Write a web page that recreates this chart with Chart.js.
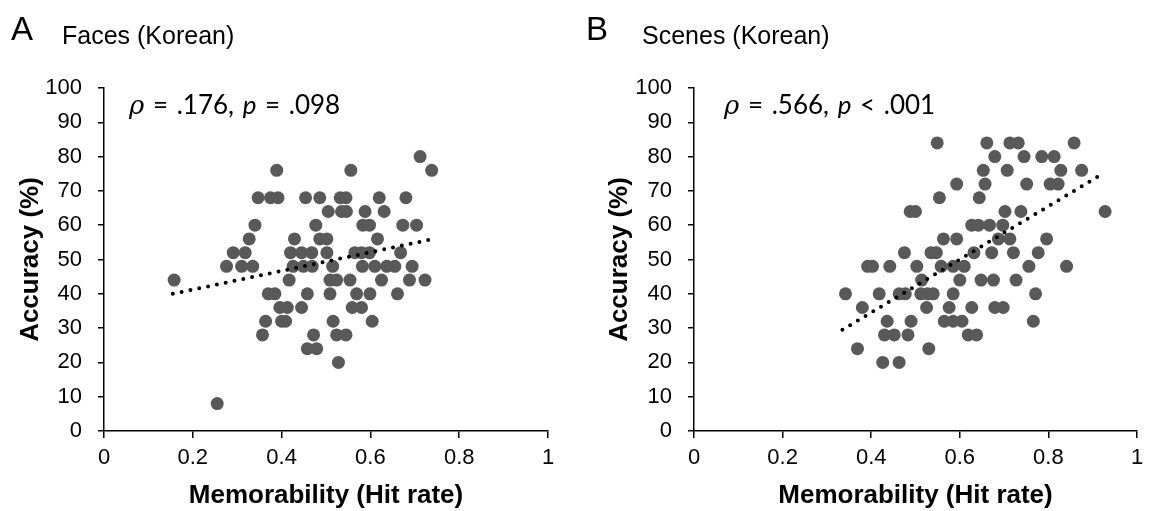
<!DOCTYPE html>
<html>
<head>
<meta charset="utf-8">
<script src="https://cdn.jsdelivr.net/npm/chart.js@4.4.1/dist/chart.umd.min.js"></script>
<style>
  body { margin: 0; background: #fff; }
  #wrap { position: relative; width: 1154px; height: 511px; overflow: hidden; font-family: "Liberation Sans", Arial, sans-serif; color: #000; }
  canvas { position: absolute; top: 0; }
  .panel { position: absolute; font-size: 33px; line-height: 1; }
  .title { position: absolute; font-size: 25px; line-height: 1; }
  .stat { position: absolute; font-family: Lato, "Open Sans", sans-serif; font-size: 26px; line-height: 1; white-space: nowrap; word-spacing: 2px; }
  .stat .rho { font-family: "DejaVu Serif", serif; font-style: italic; }
</style>
</head>
<body>
<div id="wrap">
  <canvas id="facesChart" width="577" height="511" style="left:0;width:577px;height:511px"></canvas>
  <canvas id="scenesChart" width="577" height="511" style="left:577px;width:577px;height:511px"></canvas>
  <div class="panel" style="left:11px;top:12px">A</div>
  <div class="title" style="left:62px;top:23px">Faces (Korean)</div>
  <div class="panel" style="left:586px;top:12px">B</div>
  <div class="title" style="left:642px;top:23px">Scenes (Korean)</div>
  <div class="stat" style="left:129px;top:91px"><span class="rho">ρ</span> = .176, <i>p</i> = .098</div>
  <div class="stat" style="left:724px;top:91px"><span class="rho">ρ</span> = .566, <i>p</i> &lt; .001</div>
</div>
<script>
// Faces (Korean): memorability (hit rate) vs accuracy (%)
const facesX = [
  0.389, 0.556, 0.738,
  0.712,
  0.347, 0.375, 0.392, 0.454, 0.486, 0.532, 0.545, 0.620, 0.680,
  0.505, 0.535, 0.546, 0.588, 0.631,
  0.340, 0.477, 0.583, 0.598, 0.673, 0.704,
  0.327, 0.429, 0.486, 0.502, 0.616,
  0.291, 0.318, 0.420, 0.445, 0.468, 0.502, 0.565, 0.580, 0.598, 0.668,
  0.276, 0.310, 0.335, 0.426, 0.449, 0.469, 0.515, 0.582, 0.610, 0.637, 0.655, 0.694,
  0.158, 0.417, 0.509, 0.524, 0.554, 0.625, 0.688, 0.723,
  0.370, 0.385, 0.458, 0.509, 0.569, 0.599, 0.661,
  0.396, 0.413, 0.445, 0.559, 0.580,
  0.364, 0.400, 0.409, 0.516, 0.604,
  0.357, 0.472, 0.524, 0.545,
  0.458, 0.479,
  0.528,
  0.255
];
const facesY = [
  76, 76, 76,
  80,
  68, 68, 68, 68, 68, 68, 68, 68, 68,
  64, 64, 64, 64, 64,
  60, 60, 60, 60, 60, 60,
  56, 56, 56, 56, 56,
  52, 52, 52, 52, 52, 52, 52, 52, 52, 52,
  48, 48, 48, 48, 48, 48, 48, 48, 48, 48, 48, 48,
  44, 44, 44, 44, 44, 44, 44, 44,
  40, 40, 40, 40, 40, 40, 40,
  36, 36, 36, 36, 36,
  32, 32, 32, 32, 32,
  28, 28, 28, 28,
  24, 24,
  20,
  8
];
const facesTrendX = [0.155, 0.735];
const facesTrendY = [40, 55.8];

// Scenes (Korean)
const scenesX = [
  0.549, 0.661, 0.713, 0.732, 0.858,
  0.679, 0.745, 0.785, 0.813,
  0.653, 0.707, 0.828, 0.875,
  0.593, 0.657, 0.751, 0.804, 0.822,
  0.554, 0.644,
  0.488, 0.500, 0.702, 0.738, 0.928,
  0.627, 0.642, 0.667, 0.697,
  0.563, 0.593, 0.687, 0.713, 0.796,
  0.475, 0.535, 0.547, 0.632, 0.672, 0.721, 0.777,
  0.392, 0.403, 0.442, 0.503, 0.558, 0.585, 0.610, 0.756, 0.841,
  0.514, 0.600, 0.648, 0.676, 0.727,
  0.342, 0.418, 0.463, 0.477, 0.512, 0.527, 0.540, 0.585, 0.771,
  0.380, 0.525, 0.576, 0.627, 0.679, 0.698,
  0.436, 0.490, 0.565, 0.585, 0.605, 0.766,
  0.430, 0.452, 0.483, 0.619, 0.638,
  0.369, 0.530,
  0.426, 0.463
];
const scenesY = [
  84, 84, 84, 84, 84,
  80, 80, 80, 80,
  76, 76, 76, 76,
  72, 72, 72, 72, 72,
  68, 68,
  64, 64, 64, 64, 64,
  60, 60, 60, 60,
  56, 56, 56, 56, 56,
  52, 52, 52, 52, 52, 52, 52,
  48, 48, 48, 48, 48, 48, 48, 48, 48,
  44, 44, 44, 44, 44,
  40, 40, 40, 40, 40, 40, 40, 40, 40,
  36, 36, 36, 36, 36, 36,
  32, 32, 32, 32, 32, 32,
  28, 28, 28, 28, 28,
  24, 24,
  20, 20
];
const scenesTrendX = [0.335, 0.916];
const scenesTrendY = [29.5, 74.5];

const xTickLabels = ["0", "0.2", "0.4", "0.6", "0.8", "1"];
const yTickLabels = ["0", "10", "20", "30", "40", "50", "60", "70", "80", "90", "100"];

const FONT = "'Liberation Sans', Arial, sans-serif";

function makeChart(canvasId, xs, ys, trendX, trendY, axisWidth, rightPad, yTitlePad) {
    const points = xs.map((x, i) => ({ x: x, y: ys[i] }));
    const trend = trendX.map((x, i) => ({ x: x, y: trendY[i] }));

    return new Chart(document.getElementById(canvasId), {
        type: "scatter",
        data: {
            datasets: [
                {
                    data: trend,
                    showLine: true,
                    borderColor: "#000",
                    borderWidth: 4,
                    borderDash: [0, 9],
                    borderCapStyle: "round",
                    pointRadius: 0,
                    order: 0
                },
                {
                    data: points,
                    backgroundColor: "#595959",
                    borderWidth: 0,
                    pointRadius: 6.5,
                    order: 1
                }
            ]
        },
        options: {
            responsive: false,
            animation: false,
            events: [],
            layout: { padding: { top: 88, right: rightPad, bottom: 0, left: 0 } },
            plugins: { legend: { display: false }, tooltip: { enabled: false } },
            scales: {
                x: {
                    type: "linear",
                    min: 0,
                    max: 1,
                    afterFit: scale => { scale.height = 80; },
                    ticks: {
                        stepSize: 0.2,
                        color: "#000",
                        padding: 7,
                        font: { family: FONT, size: 22 },
                        callback: (value, index) => xTickLabels[index]
                    },
                    grid: { drawOnChartArea: false, tickLength: 7, color: "#000", lineWidth: 1.5 },
                    border: { color: "#000", width: 1.5 },
                    title: {
                        display: true,
                        text: "Memorability (Hit rate)",
                        color: "#000",
                        font: { family: FONT, size: 26, weight: "bold" },
                        padding: { top: 0, bottom: 0 }
                    }
                },
                y: {
                    type: "linear",
                    min: 0,
                    max: 100,
                    afterFit: scale => { scale.width = axisWidth; },
                    ticks: {
                        stepSize: 10,
                        color: "#000",
                        padding: 16,
                        font: { family: FONT, size: 22 },
                        callback: (value, index) => yTickLabels[index]
                    },
                    grid: { drawOnChartArea: false, tickLength: 6, color: "#000", lineWidth: 1.5 },
                    border: { color: "#000", width: 1.5 },
                    title: {
                        display: true,
                        text: "Accuracy (%)",
                        color: "#000",
                        font: { family: FONT, size: 26, weight: "bold" },
                        padding: { top: yTitlePad, bottom: 0 }
                    }
                }
            }
        }
    });
}

makeChart("facesChart", facesX, facesY, facesTrendX, facesTrendY, 104, 29, 15);
makeChart("scenesChart", scenesX, scenesY, scenesTrendX, scenesTrendY, 117, 17, 27);
</script>
</body>
</html>
